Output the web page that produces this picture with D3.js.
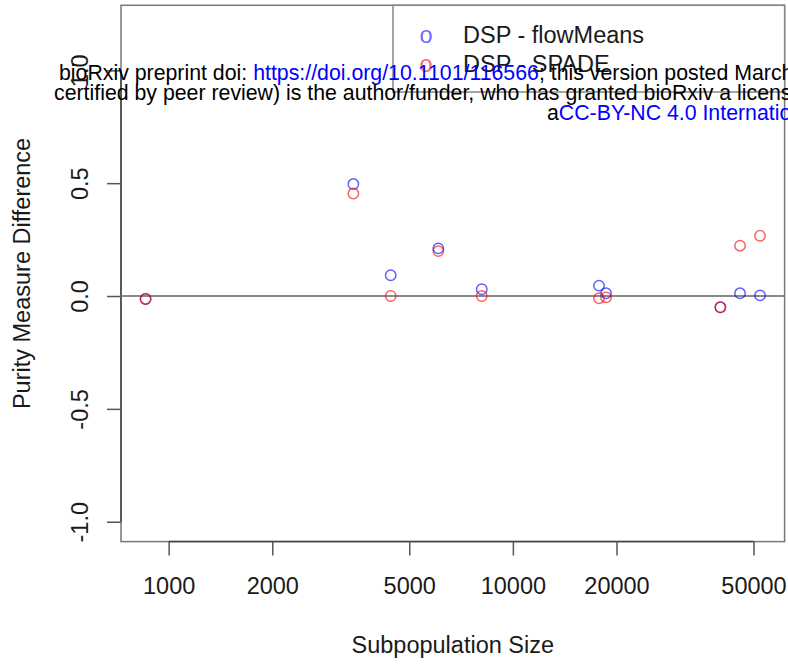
<!DOCTYPE html>
<html>
<head>
<meta charset="utf-8">
<script src="https://cdn.jsdelivr.net/npm/d3@7"></script>
<style>
  html, body { margin: 0; padding: 0; background: #fff; }
  svg { display: block; }
  text { font-family: "Liberation Sans", Arial, Helvetica, sans-serif; }
</style>
</head>
<body>
<div id="chart"></div>
<script>
// Subpopulation sizes (x, log scale) and purity differences for each comparison
const subpopSizes = [857, 3440, 4416, 6073, 8120, 17790, 18650, 40060, 45690, 52230];
const diffFlowMeans = [-0.013, 0.496, 0.092, 0.211, 0.030, 0.046, 0.012, -0.050, 0.012, 0.003];
const diffSpade     = [-0.013, 0.454, 0.000, 0.199, 0.000, -0.010, -0.006, -0.050, 0.223, 0.267];

const seriesNames = ["DSP - flowMeans", "DSP - SPADE"];
const seriesColors = ["rgba(0,0,255,0.62)", "rgba(255,0,0,0.62)"];

const xTicks = [1000, 2000, 5000, 10000, 20000, 50000];
const yTicks = [-1.0, -0.5, 0.0, 0.5, 1.0];
const yLimits = [-1.0, 1.2];

const W = 788, H = 666;
const plot = { left: 121, right: 784.6, top: 5.3, bottom: 541.6 };
const fontSize = 23.5;

const svg = d3.select("#chart").append("svg")
  .attr("width", W).attr("height", H);
svg.append("rect").attr("width", W).attr("height", H).attr("fill", "#fff");

// R-style 4% axis extension
const lx = d3.extent(subpopSizes).map(Math.log10);
const padX = (lx[1] - lx[0]) * 0.04;
const x = d3.scaleLog()
  .domain([Math.pow(10, lx[0] - padX), Math.pow(10, lx[1] + padX)])
  .range([plot.left, plot.right]);
const padY = (yLimits[1] - yLimits[0]) * 0.04;
const y = d3.scaleLinear()
  .domain([yLimits[0] - padY, yLimits[1] + padY])
  .range([plot.bottom, plot.top]);

// plot frame
svg.append("rect")
  .attr("x", plot.left).attr("y", plot.top)
  .attr("width", plot.right - plot.left).attr("height", plot.bottom - plot.top)
  .attr("fill", "none").attr("stroke", "#777").attr("stroke-width", 1.5);

// x axis
const xAxis = svg.append("g")
  .attr("transform", `translate(0,${plot.bottom})`)
  .call(d3.axisBottom(x).tickValues(xTicks).tickFormat(d => String(d))
    .tickSizeOuter(0).tickSizeInner(14).tickPadding(24));
xAxis.select(".domain").attr("d", `M${x(xTicks[0])},0H${x(xTicks[xTicks.length - 1])}`);

// y axis (plain hyphen for negatives)
const yAxis = svg.append("g")
  .attr("transform", `translate(${plot.left},0)`)
  .call(d3.axisLeft(y).tickValues(yTicks).tickFormat(d => d.toFixed(1))
    .tickSizeOuter(0).tickSizeInner(14).tickPadding(0));
yAxis.select(".domain").attr("d", `M0,${y(yTicks[0])}V${y(yTicks[yTicks.length - 1])}`);

[xAxis, yAxis].forEach(g => {
  g.select(".domain").attr("stroke", "#444").attr("stroke-width", 1.5);
  g.selectAll(".tick line").attr("stroke", "#555").attr("stroke-width", 1.5);
  g.selectAll(".tick text").attr("fill", "#1a1a1a")
    .style("font-size", fontSize + "px")
    .style("font-family", '"Liberation Sans", Arial, Helvetica, sans-serif');
});
xAxis.selectAll(".tick text").attr("dy", null).attr("y", 0)
  .attr("transform", "translate(0,52)");
yAxis.selectAll(".tick text")
  .attr("x", null).attr("dy", null)
  .attr("text-anchor", "middle")
  .attr("transform", "translate(-33.5,0) rotate(-90)");

// reference line at zero
svg.append("line")
  .attr("x1", plot.left).attr("x2", plot.right)
  .attr("y1", y(0)).attr("y2", y(0))
  .attr("stroke", "#8a8a8a").attr("stroke-width", 1.8);

// axis titles
svg.append("text")
  .attr("x", (plot.left + plot.right) / 2).attr("y", 653)
  .attr("text-anchor", "middle").attr("fill", "#1a1a1a")
  .style("font-size", fontSize + "px")
  .text("Subpopulation Size");
svg.append("text")
  .attr("transform", `translate(29.5,${(plot.top + plot.bottom) / 2}) rotate(-90)`)
  .attr("text-anchor", "middle").attr("fill", "#1a1a1a")
  .style("font-size", fontSize + "px")
  .text("Purity Measure Difference");

// points
const seriesValues = [diffFlowMeans, diffSpade];
seriesValues.forEach((vals, i) => {
  svg.append("g").selectAll("circle")
    .data(subpopSizes.map((s, k) => ({ s, v: vals[k] })))
    .join("circle")
    .attr("cx", d => x(d.s))
    .attr("cy", d => y(d.v))
    .attr("r", 5.2)
    .attr("fill", "none")
    .attr("stroke", seriesColors[i])
    .attr("stroke-width", 1.5);
});

// legend (top right)
const legend = svg.append("g");
legend.append("rect")
  .attr("x", 393).attr("y", plot.top)
  .attr("width", plot.right - 393).attr("height", 92 - plot.top)
  .attr("fill", "#fff").attr("stroke", "#888").attr("stroke-width", 1.5);
seriesNames.forEach((name, i) => {
  const cy = 35 + i * 29;
  legend.append("text")
    .attr("x", 426).attr("y", cy)
    .attr("dominant-baseline", "central")
    .attr("text-anchor", "middle")
    .attr("fill", seriesColors[i])
    .style("font-size", fontSize + "px")
    .text("o");
  legend.append("text")
    .attr("x", 463).attr("y", cy + 8.4)
    .attr("fill", "#1a1a1a")
    .style("font-size", fontSize + "px")
    .text(name);
});

// preprint notice printed across the top of the page
const notice = svg.append("g").style("font-size", "21.3px");
const l1 = notice.append("text").attr("x", 59).attr("y", 80).attr("fill", "#000");
l1.append("tspan").text("bioRxiv preprint doi: ");
l1.append("tspan").attr("fill", "#0000ff").text("https://doi.org/10.1101/116566");
l1.append("tspan").text("; this version posted March 13, 2017. The copyright holder for this preprint");
notice.append("text").attr("x", 54).attr("y", 100).attr("fill", "#000")
  .text("certified by peer review) is the author/funder, who has granted bioRxiv a license to display the preprint in perpetuity.");
const l3 = notice.append("text").attr("x", 547).attr("y", 120).attr("fill", "#000");
l3.append("tspan").text("a");
l3.append("tspan").attr("fill", "#0000ff").text("CC-BY-NC 4.0 International license");
</script>
</body>
</html>
